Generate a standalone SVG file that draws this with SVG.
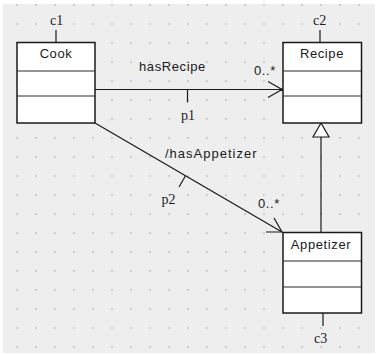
<svg xmlns="http://www.w3.org/2000/svg" width="377" height="355" viewBox="0 0 377 355">
<style>
.box{fill:#ffffff;stroke:#1a1a1a;stroke-width:1.5}
.div{stroke:#2a2a2a;stroke-width:1.2}
.ln{stroke:#1a1a1a;stroke-width:1.2;fill:none}
.nm{font-family:"Liberation Sans",Arial,sans-serif;font-size:13px;fill:#1a1a1a;letter-spacing:0.6px}
.lbl{font-family:"Liberation Sans",Arial,sans-serif;font-size:13px;fill:#1a1a1a;letter-spacing:0.6px}
.id{font-family:"Liberation Serif","Times New Roman",serif;font-size:14px;fill:#1c1c2c}
</style>
<defs>
<pattern id="dots" patternUnits="userSpaceOnUse" x="16" y="4" width="19" height="19">
<rect x="0" y="0" width="2" height="2" fill="#cdcdcd"/>
</pattern>
</defs>
<rect x="0" y="0" width="377" height="355" fill="#ffffff"/>
<rect x="3" y="4" width="372" height="349" fill="#eeeeee"/>
<rect x="3" y="4" width="372" height="349" fill="url(#dots)"/>

<g id="connectors">
<g id="hasRecipe">
<line class="ln" x1="95" y1="89.5" x2="282" y2="89.5"/>
<polyline class="ln" points="268,81.5 282,89.5 268,97.5"/>
<rect x="280.5" y="88.5" width="2.5" height="2.5" fill="#1a1a1a"/>
<line class="ln" x1="187.5" y1="89.5" x2="187.5" y2="102.5"/>
<text class="lbl" x="139" y="71">hasRecipe</text>
<text class="lbl" x="254" y="75">0..*</text>
<text class="id" x="181" y="120">p1</text>
</g>
<g id="hasAppetizer">
<line class="ln" x1="95" y1="123" x2="282" y2="232"/>
<polyline class="ln" points="266,232 282,232 274,218"/>
<line class="ln" x1="185.5" y1="175.7" x2="179" y2="187"/>
<text class="lbl" x="165" y="157.5" style="letter-spacing:1px">/hasAppetizer</text>
<text class="lbl" x="258" y="208">0..*</text>
<text class="id" x="161.5" y="203.5">p2</text>
</g>
<g id="generalization">
<line class="ln" x1="321" y1="137" x2="321" y2="232"/>
<polygon points="321,123 313,137 329,137" fill="#ffffff" stroke="#1a1a1a" stroke-width="1.2"/>
</g>
</g>

<g id="c1">
<line class="ln" x1="56" y1="30" x2="56" y2="42"/>
<text class="id" x="50" y="25">c1</text>
<rect class="box" x="17" y="42.5" width="78" height="80.5"/>
<line class="div" x1="17" y1="71" x2="95" y2="71"/>
<line class="div" x1="17" y1="96" x2="95" y2="96"/>
<text class="nm" x="56" y="58" text-anchor="middle">Cook</text>
</g>

<g id="c2">
<line class="ln" x1="320" y1="30" x2="320" y2="42"/>
<text class="id" x="313" y="25">c2</text>
<rect class="box" x="283" y="42.5" width="78.5" height="80.5"/>
<line class="div" x1="283" y1="71" x2="361.5" y2="71"/>
<line class="div" x1="283" y1="96" x2="361.5" y2="96"/>
<text class="nm" x="322" y="58" text-anchor="middle">Recipe</text>
</g>

<g id="c3">
<rect class="box" x="283" y="232.5" width="78.5" height="80.5"/>
<line class="div" x1="283" y1="261" x2="361.5" y2="261"/>
<line class="div" x1="283" y1="287" x2="361.5" y2="287"/>
<text class="nm" x="321" y="248.5" text-anchor="middle">Appetizer</text>
<line class="ln" x1="323" y1="313" x2="323" y2="326"/>
<text class="id" x="314" y="343">c3</text>
</g>
</svg>
